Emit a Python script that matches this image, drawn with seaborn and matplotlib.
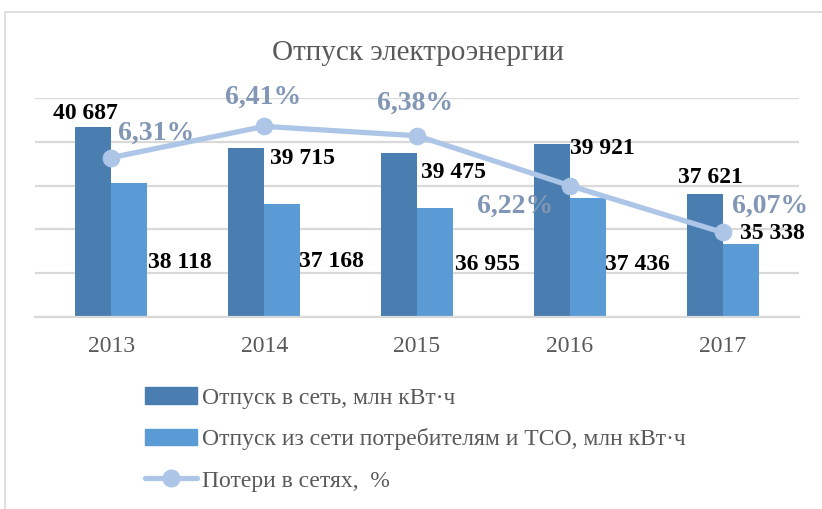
import matplotlib
matplotlib.use("Agg")
import matplotlib.pyplot as plt
import matplotlib.patches as mpatches
import matplotlib.lines as mlines
import seaborn as sns
import pandas as pd

years = ["2013", "2014", "2015", "2016", "2017"]
supply_in = [40687, 39715, 39475, 39921, 37621]
supply_out = [38118, 37168, 36955, 37436, 35338]
losses = [6.31, 6.41, 6.38, 6.22, 6.07]
series_names = ["Отпуск в сеть, млн кВт·ч",
                "Отпуск из сети потребителям и ТСО, млн кВт·ч",
                "Потери в сетях,  %"]
title = "Отпуск электроэнергии"

sns.set_theme(style="white")
plt.rcParams['font.family'] = ['Liberation Serif', 'DejaVu Serif']

C_DARK = "#4a7eb0"
C_LIGHT = "#5b9bd5"
C_LINE = "#adc6e7"
C_PCT = "#8197b5"
C_TXT = "#595959"

df = pd.DataFrame({
    "year": years * 2,
    "value": supply_in + supply_out,
    "series": [series_names[0]] * 5 + [series_names[1]] * 5,
})

fig = plt.figure(figsize=(8.22, 5.09), dpi=100)
ax = fig.add_axes([35/822, 1-316.7/509, 764/822, 218.4/509])

sns.barplot(data=df, x="year", y="value", hue="series", order=years,
            hue_order=series_names[:2], palette=[C_DARK, C_LIGHT],
            width=0.47, ax=ax, legend=False, saturation=1, edgecolor="none")
ax.set_ylim(32000, 42000)
ax.set_xlim(-0.5, 4.5)
ax.set_yticks(range(32000, 42001, 2000))
ax.yaxis.grid(True, color="#d9d9d9", linewidth=1.6)
ax.set_axisbelow(True)
ax.set_yticklabels([])
ax.tick_params(axis="y", length=0)
ax.tick_params(axis="x", length=0, labelsize=17, labelcolor=C_TXT, pad=14)
ax.set_xlabel("")
ax.set_ylabel("")
for s in ["top", "right", "left"]:
    ax.spines[s].set_visible(False)
ax.spines["bottom"].set_color("#d9d9d9")
ax.spines["bottom"].set_linewidth(1.6)

ax2 = ax.twinx()
sns.lineplot(x=list(range(5)), y=losses, ax=ax2, color=C_LINE, linewidth=3.8,
             marker="o", markersize=12, markeredgecolor=C_LINE, legend=False)
ax2.set_ylim(5.8, 6.5)
ax2.set_xlim(-0.5, 4.5)
ax2.axis("off")

px = 72 / 100  # pixels to points
bw = 0.47 / 2
off_in = [(-8.5, 13), (56.5, -10), (54.5, -18.6), (50.5, -4.3), (5.5, 16)]
off_out = [(50.5, -79), (49.5, -58), (52.5, -56.5), (49.5, -67), (31.5, 10)]
off_pct = [(44.5, 24.6), (-1.5, 29.4), (-1.5, 32.7), (-54.5, -20.3), (47.5, 26.5)]

def fmt(v):
    return f"{v:,}".replace(",", " ")

for i in range(5):
    ax.annotate(fmt(supply_in[i]), (i - bw/2, supply_in[i]),
                xytext=(off_in[i][0]*px, off_in[i][1]*px), textcoords="offset points",
                ha="center", va="center", fontsize=17, fontweight="bold", color="black")
    ax.annotate(fmt(supply_out[i]), (i + bw/2, supply_out[i]),
                xytext=(off_out[i][0]*px, off_out[i][1]*px), textcoords="offset points",
                ha="center", va="center", fontsize=17, fontweight="bold", color="black")
    ax2.annotate(f"{losses[i]:.2f}%".replace(".", ","), (i, losses[i]),
                 xytext=(off_pct[i][0]*px, off_pct[i][1]*px), textcoords="offset points",
                 ha="center", va="center", fontsize=20, fontweight="bold", color=C_PCT)

fig.text(418/822, 1-53/509, title, ha="center", va="center", fontsize=21, color=C_TXT)

frame = mpatches.Rectangle((5/822, -0.1), 1.2, 1-12/509+0.1, transform=fig.transFigure,
                           fill=False, edgecolor="#d9d9d9", linewidth=1.2)
fig.patches.append(frame)

handles = [mpatches.Patch(color=C_DARK), mpatches.Patch(color=C_LIGHT),
           mlines.Line2D([], [], color=C_LINE, linewidth=3.8, marker="o", markersize=12)]
leg = fig.legend(handles, series_names, loc="upper left",
                 bbox_to_anchor=(145/822, 1-387/509), frameon=False, fontsize=17,
                 handlelength=2.2, handletextpad=0.2, labelspacing=0.84, borderpad=0,
                 borderaxespad=0)
for t in leg.get_texts():
    t.set_color(C_TXT)

fig.savefig("out.png", dpi=100)
